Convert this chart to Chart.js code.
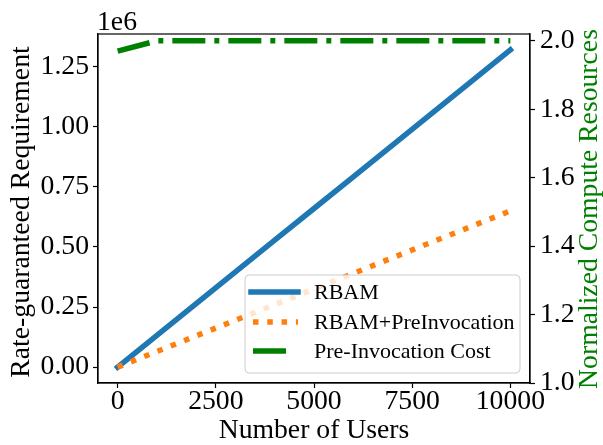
<!DOCTYPE html>
<html>
<head>
<meta charset="utf-8">
<script src="https://cdn.jsdelivr.net/npm/chart.js@4/dist/chart.umd.min.js"></script>
<style>
  html, body { margin: 0; padding: 0; background: #ffffff; }
  #wrap { width: 603px; height: 445px; position: relative; }
</style>
</head>
<body>
<div id="wrap"><canvas id="chart"></canvas></div>
<script>
// ---- data ----
const users = [0, 1000, 2000, 3000, 4000, 5000, 6000, 7000, 8000, 9000, 10000];
const rbam = [0, 132000, 264000, 396000, 528000, 660000, 792000, 924000, 1056000, 1188000, 1320000];
const rbamPreInvocation = [0, 65000, 130000, 195000, 260000, 325000, 390000, 455000, 520000, 585000, 650000];
const preInvocationCost = [1.97, 2.0, 2.0, 2.0, 2.0, 2.0, 2.0, 2.0, 2.0, 2.0, 2.0];

const seriesNames = ['RBAM', 'RBAM+PreInvocation', 'Pre-Invocation Cost'];
const xTicks = [0, 2500, 5000, 7500, 10000];
const yTicks = [0, 250000, 500000, 750000, 1000000, 1250000];
const y2Ticks = [1.0, 1.2, 1.4, 1.6, 1.8, 2.0];

const SERIF = "'Liberation Serif', 'Times New Roman', 'DejaVu Serif', serif";
const BLUE = '#1f77b4', ORANGE = '#ff7f0e', GREEN = '#008000';
const FS = 27.7;   // axis text size

const pts = (ys) => users.map((u, i) => ({ x: u, y: ys[i] }));

const styles = [
  { color: BLUE, dash: [], cap: 'square' },
  { color: ORANGE, dash: [5.5, 8.8], cap: 'butt' },
  { color: GREEN, dash: [33, 9, 5, 9], cap: 'butt' }
];

// frame, offset text, axis titles on the sides, and the legend
const decor = {
  id: 'decor',
  afterDatasetsDraw(chart) {
    const { ctx, chartArea: a } = chart;
    ctx.save();
    // axes frame
    ctx.strokeStyle = '#000';
    ctx.lineWidth = 1.2;
    ctx.strokeRect(a.left, a.top, a.right - a.left, a.bottom - a.top);

    // scientific offset
    ctx.fillStyle = '#000';
    ctx.font = `${FS}px ${SERIF}`;
    ctx.textAlign = 'left';
    ctx.textBaseline = 'alphabetic';
    ctx.fillText('1e6', a.left - 1, 30);

    // vertical axis titles (both read bottom to top)
    const vTitle = (text, x, y, color) => {
      ctx.save();
      ctx.translate(x, y);
      ctx.rotate(-Math.PI / 2);
      ctx.fillStyle = color;
      ctx.font = `${FS}px ${SERIF}`;
      ctx.textAlign = 'center';
      ctx.textBaseline = 'middle';
      ctx.fillText(text, 0, 0);
      ctx.restore();
    };
    vTitle('Rate-guaranteed Requirement', 22, 212, '#000');
    vTitle('Normalized Compute Resources', 590, 209, GREEN);

    // legend
    const bx = 245, by = 275, bw = 275, bh = 98, r = 4;
    ctx.beginPath();
    ctx.roundRect(bx, by, bw, bh, r);
    ctx.fillStyle = 'rgba(255,255,255,0.8)';
    ctx.fill();
    ctx.strokeStyle = '#cccccc';
    ctx.lineWidth = 1;
    ctx.stroke();

    const rows = [292, 322, 351];
    const handleEnds = [[251, 298], [253, 298], [253, 288]];
    ctx.font = `22px ${SERIF}`;
    ctx.textAlign = 'left';
    ctx.textBaseline = 'middle';
    rows.forEach((ry, i) => {
      const s = styles[i];
      ctx.beginPath();
      ctx.setLineDash(s.dash);
      ctx.lineCap = s.cap;
      ctx.strokeStyle = s.color;
      ctx.lineWidth = 5.5;
      ctx.moveTo(handleEnds[i][0], ry);
      ctx.lineTo(handleEnds[i][1], ry);
      ctx.stroke();
      ctx.setLineDash([]);
      ctx.fillStyle = '#000';
      ctx.fillText(seriesNames[i], 314, ry + 1);
    });
    ctx.restore();
  }
};

const tickFont = { family: SERIF, size: FS, lineHeight: 1 };
const titleFont = { family: SERIF, size: FS, lineHeight: 1 };

new Chart(document.getElementById('chart'), {
  type: 'line',
  data: {
    datasets: [
      { label: seriesNames[0], data: pts(rbam), yAxisID: 'y', borderColor: BLUE,
        borderWidth: 5.5, borderCapStyle: 'square', pointRadius: 0, tension: 0, order: 3 },
      { label: seriesNames[1], data: pts(rbamPreInvocation), yAxisID: 'y', borderColor: ORANGE,
        borderWidth: 5.5, borderDash: [5.5, 8.8], pointRadius: 0, tension: 0, order: 2 },
      { label: seriesNames[2], data: pts(preInvocationCost), yAxisID: 'y1', borderColor: GREEN,
        borderWidth: 5.5, borderDash: [33, 9, 5, 9], pointRadius: 0, tension: 0, order: 1 }
    ]
  },
  options: {
    responsive: true,
    maintainAspectRatio: false,
    animation: false,
    layout: { padding: { top: 34, left: 0, right: 0, bottom: 0 } },
    plugins: { legend: { display: false }, tooltip: { enabled: false } },
    scales: {
      x: {
        type: 'linear', min: -500, max: 10500,
        afterFit: s => { s.height = 62; },
        afterBuildTicks: s => { s.ticks = xTicks.map(v => ({ value: v })); },
        grid: { drawOnChartArea: false, tickLength: 5, color: '#000', tickWidth: 1.2 },
        border: { color: '#000', width: 1.2 },
        ticks: { color: '#000', font: tickFont, padding: 0, maxRotation: 0, callback: v => String(v) },
        title: { display: true, text: 'Number of Users', color: '#000', font: titleFont, padding: { top: 0, bottom: 0 } }
      },
      y: {
        position: 'left', min: -66000, max: 1386000,
        afterFit: s => { s.width = 98; },
        afterBuildTicks: s => { s.ticks = yTicks.map(v => ({ value: v })); },
        grid: { drawOnChartArea: false, tickLength: 5, color: '#000', tickWidth: 1.2 },
        border: { color: '#000', width: 1.2 },
        ticks: { color: '#000', font: tickFont, padding: 4, callback: v => (v / 1e6).toFixed(2) }
      },
      y1: {
        position: 'right', min: 1.0, max: 2.02,
        afterFit: s => { s.width = 73; },
        afterBuildTicks: s => { s.ticks = y2Ticks.map(v => ({ value: v })); },
        grid: { drawOnChartArea: false, tickLength: 5, color: '#000', tickWidth: 1.2 },
        border: { color: '#000', width: 1.2 },
        ticks: { color: '#000', font: tickFont, padding: 5, callback: v => v.toFixed(1) }
      }
    }
  },
  plugins: [decor]
});
</script>
</body>
</html>
